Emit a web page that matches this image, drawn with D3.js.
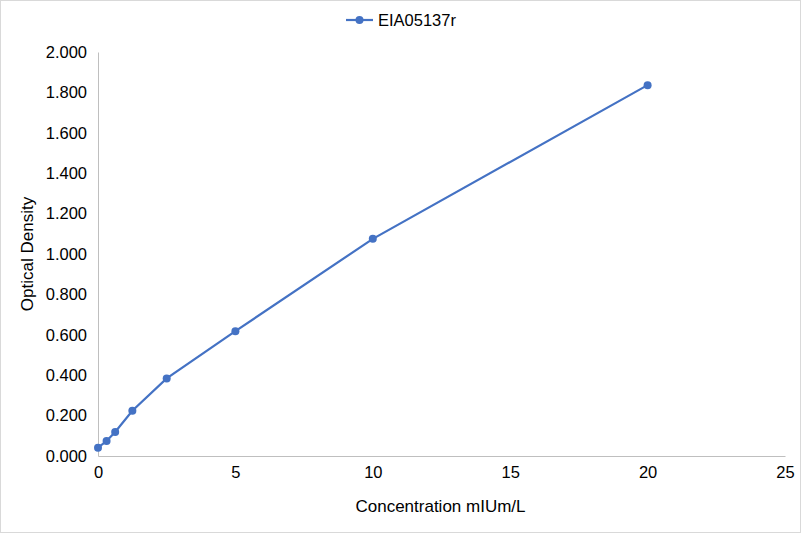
<!DOCTYPE html>
<html>
<head>
<meta charset="utf-8">
<script src="https://cdn.jsdelivr.net/npm/d3@7"></script>
<style>
  body { margin: 0; background: #fff; }
  svg { font-family: Arial, "Liberation Sans", sans-serif; }
</style>
</head>
<body>
<div id="chart"></div>
<script>
// standard curve data
const seriesName = "EIA05137r";
const concentrations = [0, 0.3125, 0.625, 1.25, 2.5, 5, 10, 20];
const densities = [0.041, 0.074, 0.119, 0.224, 0.384, 0.618, 1.075, 1.836];
const xTicks = [0, 5, 10, 15, 20, 25];
const yTicks = [0, 0.2, 0.4, 0.6, 0.8, 1.0, 1.2, 1.4, 1.6, 1.8, 2.0];

const size = {width: 801, height: 533};
const margin = {top: 52, right: 16, bottom: 77, left: 98};
const width = size.width - margin.left - margin.right;
const height = size.height - margin.top - margin.bottom;
const color = "#4472C4";

const svg = d3.select("#chart").append("svg")
    .attr("width", size.width)
    .attr("height", size.height);

// outer frame
svg.append("rect")
    .attr("x", 0.5).attr("y", 0.5)
    .attr("width", size.width - 1).attr("height", size.height - 1)
    .attr("fill", "#fff").attr("stroke", "#d9d9d9");

const g = svg.append("g")
    .attr("transform", "translate(" + margin.left + "," + margin.top + ")");

const xScale = d3.scaleLinear().domain([0, 25]).range([0, width]);
const yScale = d3.scaleLinear().domain([0, 2]).range([height, 0]);

// x axis
const xAxisG = g.append("g")
    .attr("transform", "translate(0," + height + ")")
    .call(d3.axisBottom(xScale).tickValues(xTicks).tickSize(0).tickPadding(10));
xAxisG.select(".domain").attr("stroke", "#bfbfbf");

// y axis
const yAxisG = g.append("g")
    .call(d3.axisLeft(yScale).tickValues(yTicks).tickSize(0).tickPadding(11)
        .tickFormat(d3.format(".3f")));
yAxisG.select(".domain").attr("stroke", "#bfbfbf");

g.selectAll(".tick text")
    .attr("fill", "#000")
    .style("font-size", "16.5px")
    .style("font-family", "Arial, 'Liberation Sans', sans-serif");

// axis titles
g.append("text")
    .attr("x", width / 2 - 1)
    .attr("y", height + 56)
    .attr("text-anchor", "middle")
    .style("font-size", "17px")
    .text("Concentration mIUm/L");

g.append("text")
    .attr("transform", "translate(-65," + (height / 2) + ") rotate(-90)")
    .attr("text-anchor", "middle")
    .style("font-size", "17px")
    .text("Optical Density");

// line + points
const data = concentrations.map((c, i) => ({x: c, y: densities[i]}));
const line = d3.line().x(d => xScale(d.x)).y(d => yScale(d.y));

g.append("path")
    .datum(data)
    .attr("d", line)
    .attr("fill", "none")
    .attr("stroke", color)
    .attr("stroke-width", 2.2);

g.selectAll(".pointCircle")
    .data(data)
    .join("circle")
    .attr("class", "pointCircle")
    .attr("cx", d => xScale(d.x))
    .attr("cy", d => yScale(d.y))
    .attr("r", 4)
    .attr("fill", color);

// legend
const legend = svg.append("g").attr("transform", "translate(346,20)");
legend.append("line")
    .attr("x1", 0).attr("x2", 27)
    .attr("stroke", color).attr("stroke-width", 2.2);
legend.append("circle")
    .attr("cx", 13.5).attr("r", 4).attr("fill", color);
legend.append("text")
    .attr("x", 32).attr("dy", "0.35em")
    .style("font-size", "16.5px")
    .text(seriesName);
</script>
</body>
</html>
